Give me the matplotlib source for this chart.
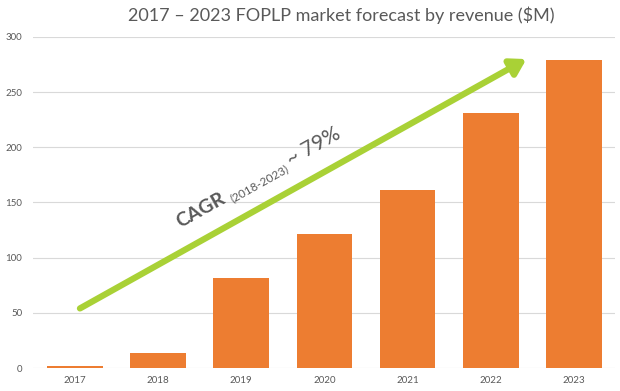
import matplotlib
matplotlib.use("Agg")
import matplotlib.pyplot as plt
import matplotlib.transforms as mtransforms
import numpy as np

years = ["2017", "2018", "2019", "2020", "2021", "2022", "2023"]
revenue = [2, 14, 82, 121, 161, 231, 279]
y_ticks = [0, 50, 100, 150, 200, 250, 300]

# arrow from/to in data units (x = category index, y = $M)
arrow_start = (0.06, 54)
arrow_end = (5.43, 280)
cagr_pieces = ["CAGR", "(2018-2023)", "~ 79%"]

title = "2017 \u2013 2023 FOPLP market forecast by revenue ($M)"

plt.rcParams['font.family'] = ['Lato', 'DejaVu Sans']
grey = "#595959"
orange = "#ED7D31"
green = "#A9D136"

fig = plt.figure(figsize=(6.2, 3.91), dpi=100)
ax = fig.add_axes([33.4 / 620, 23 / 391, 582 / 620, 331 / 391])

x = np.arange(len(years))
ax.bar(x, revenue, width=0.67, color=orange, zorder=2)

ax.set_xlim(-0.5, len(years) - 0.5)
ax.set_ylim(0, 300)
ax.set_yticks(y_ticks)
ax.set_xticks(x)
ax.set_xticklabels(years)
ax.tick_params(axis='both', length=0, labelsize=7, colors=grey)
ax.tick_params(axis='x', pad=6)
ax.tick_params(axis='y', pad=8)
ax.grid(axis='y', color="#D9D9D9", linewidth=0.8, zorder=0)
for s in ax.spines.values():
    s.set_visible(False)

fig.text(341 / 620, 1 - 15 / 391, title, ha='center', va='center',
         fontsize=13, color=grey)

# green growth arrow
ax.annotate("", xy=arrow_end, xytext=arrow_start,
            arrowprops=dict(arrowstyle="-|>,head_length=0.9,head_width=0.55",
                            color=green, lw=4.5, shrinkA=0, shrinkB=0),
            zorder=3)

# CAGR label along the arrow
fig.canvas.draw()
renderer = fig.canvas.get_renderer()
p0 = ax.transData.transform(arrow_start)
p1 = ax.transData.transform(arrow_end)
ang = np.degrees(np.arctan2(p1[1] - p0[1], p1[0] - p0[0]))
c, s = np.cos(np.radians(ang)), np.sin(np.radians(ang))

styles = [dict(fontsize=14, fontweight='bold'),
          dict(fontsize=8.5),
          dict(fontsize=15)]
gaps = [5, 3, 0]
drops = [0, -3, 0]
widths = []
for piece, st in zip(cagr_pieces, styles):
    t = fig.text(0, 0, piece, **st)
    widths.append(t.get_window_extent(renderer).width)
    t.remove()

anchor = (1.27, 127)  # baseline start of "CAGR" in data units
along = 0
for piece, st, w, g, d in zip(cagr_pieces, styles, widths, gaps, drops):
    dx = along * c - d * s
    dy = along * s + d * c
    tr = mtransforms.offset_copy(ax.transData, fig=fig, x=dx, y=dy, units='dots')
    ax.text(anchor[0], anchor[1], piece, transform=tr, rotation=ang,
            rotation_mode='anchor', ha='left', va='baseline', color=grey,
            zorder=4, **st)
    along += w + g

fig.savefig("out.png", dpi=100)
